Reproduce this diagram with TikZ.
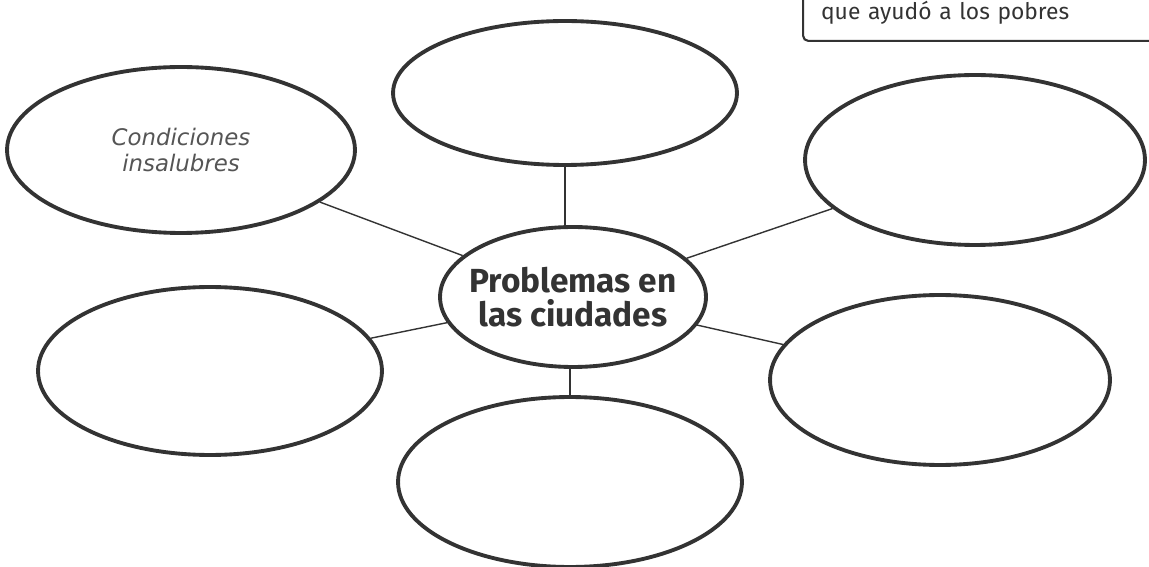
\documentclass[tikz,border=0pt]{standalone}
\usepackage{fontspec}
\usepackage{tikz}
\usetikzlibrary{shapes.geometric}
\usetikzlibrary{positioning}

\newfontfamily\titlefont{Fira Sans}
\newfontfamily\handfont{DejaVu Sans}
\definecolor{inkgray}{HTML}{333333}
\definecolor{textgray}{HTML}{555555}

\tikzset{
  bubble/.style={draw=inkgray,line width=2.2pt,ellipse,inner sep=0pt},
  spoke/.style={draw=inkgray,line width=0.8pt},
  notebox/.style={draw=inkgray,line width=1.2pt,rounded corners=3pt,anchor=south west,
    text width=8cm,align=left,text height=2cm,text depth=0.25cm,inner xsep=0.36cm,inner ysep=0.17cm}
}

\begin{document}
\begin{tikzpicture}[x=0.02cm,y=-0.02cm]

  \useasboundingbox (0,0) rectangle (1149,567);
  \clip (0,0) rectangle (1149,567);

  \node [notebox,text=inkgray,font=\titlefont\fontsize{13}{15}\selectfont] (note) at (802,42)
    {que ayudó a los pobres};

  \node [bubble,minimum width=5.32cm,minimum height=2.8cm,inner xsep=-0.3cm,align=center,text=inkgray,
    font=\titlefont\bfseries\fontsize{19}{19}\selectfont] (B_c) at (573,297)
    {Problemas en\\las ciudades};

  \node [bubble,minimum width=6.88cm,minimum height=2.88cm] (B_top) at (565,93) {};
  \node [bubble,minimum width=6.96cm,minimum height=3.32cm,align=center,text=textgray,
    font=\handfont\itshape\fontsize{13}{15}\selectfont] (B_tl) at (181,150)
    {Condiciones\\insalubres};
  \node [bubble,minimum width=6.8cm,minimum height=3.4cm] (B_tr) at (975,160) {};
  \node [bubble,minimum width=6.88cm,minimum height=3.36cm] (B_bl) at (210,371) {};
  \node [bubble,minimum width=6.8cm,minimum height=3.4cm] (B_br) at (940,380) {};
  \node [bubble,minimum width=6.88cm,minimum height=3.4cm] (B_bot) at (570,482) {};

  \path [spoke]
    (B_tl) edge (B_c)
    (B_tr) edge (B_c)
    (B_bl) edge (B_c)
    (B_br) edge (B_c)
    (B_top.south) edge (B_c.north -| B_top.south)
    (B_bot.north) edge (B_c.south -| B_bot.north);

\end{tikzpicture}
\end{document}
